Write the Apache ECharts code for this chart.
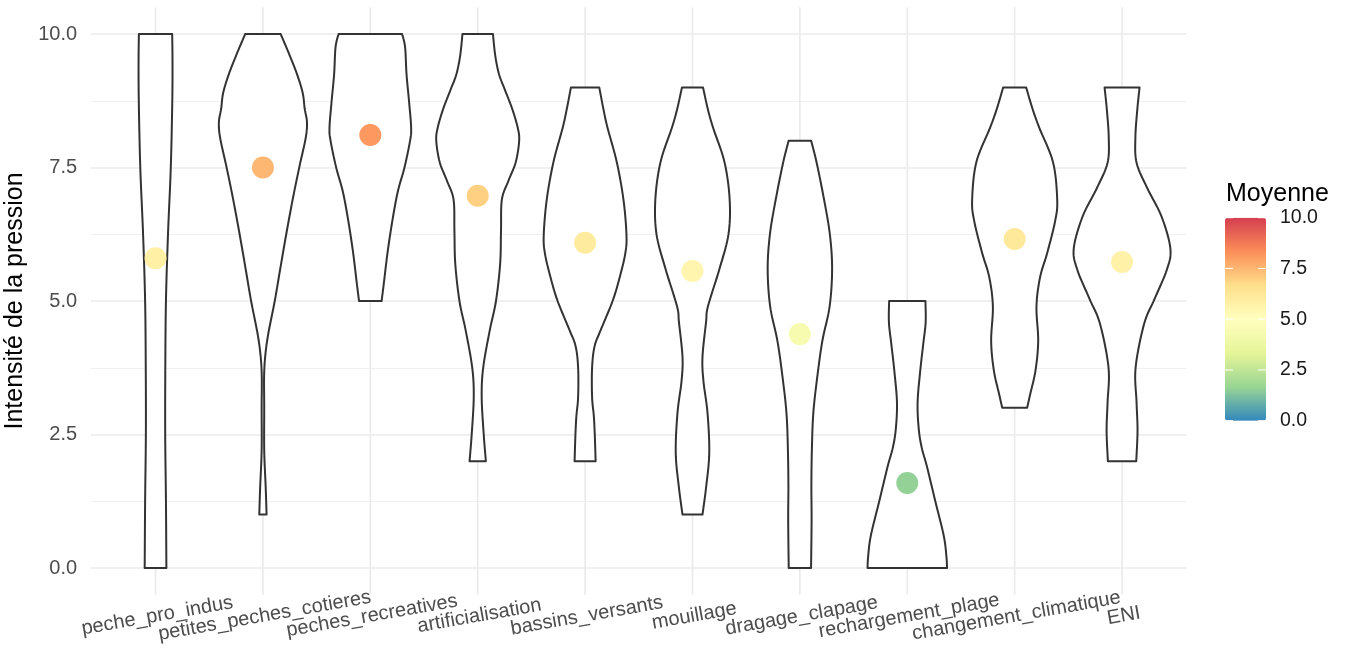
<!DOCTYPE html>
<html><head><meta charset="utf-8">
<script src="https://cdn.jsdelivr.net/npm/echarts@6/dist/echarts.min.js"></script>
<style>html,body{margin:0;padding:0;background:#fff}#c{width:1347px;height:648px}</style>
</head><body><div id="c"></div>
<script>
// ---- data ----
const categories = ['peche_pro_indus','petites_peches_cotieres','peches_recreatives','artificialisation','bassins_versants','mouillage','dragage_clapage','rechargement_plage','changement_climatique','ENI'];
const means = [5.8, 7.5, 8.11, 6.97, 6.09, 5.56, 4.38, 1.59, 6.16, 5.73];
const legendTicks = [0, 2.5, 5, 7.5, 10];
const spectral = ['#3288BD','#99D594','#E6F598','#FFFFBF','#FEE08B','#FC8D59','#D53E4F'];
// violin outlines: [intensity, half-width in category units], from min to max
const violin_peche_pro_indus = [[0,0.101],[1.25,0.097],[2.5,0.090],[3.75,0.091],[5,0.097],[6.25,0.116],[7.5,0.142],[8.75,0.156],[9.5,0.158],[10,0.155]];
const violin_petites_peches_cotieres = [[1,0.034],[1.5,0.026],[2.2,0.012],[3.0,0.012],[3.6,0.011],[4.0,0.023],[4.4,0.051],[5.0,0.110],[5.6,0.161],[6.25,0.217],[6.9,0.277],[7.5,0.338],[8.05,0.398],[8.35,0.410],[8.6,0.389],[8.9,0.370],[9.25,0.317],[9.6,0.249],[10,0.165]];
const violin_peches_recreatives = [[5,0.105],[5.3,0.124],[5.9,0.160],[6.5,0.205],[7.05,0.256],[7.5,0.318],[8.0,0.370],[8.25,0.380],[8.75,0.360],[9.25,0.337],[9.75,0.324],[10,0.296]];
const violin_artificialisation = [[2,0.076],[2.5,0.056],[3.2,0.037],[3.75,0.051],[4.45,0.112],[5.0,0.170],[5.7,0.209],[6.33,0.217],[6.9,0.225],[7.25,0.286],[7.6,0.354],[8.0,0.386],[8.25,0.372],[8.6,0.321],[8.95,0.254],[9.25,0.198],[9.6,0.163],[10,0.142]];
const violin_bassins_versants = [[2,0.098],[2.5,0.090],[2.85,0.081],[3.2,0.065],[3.75,0.065],[4.15,0.088],[4.45,0.144],[5.0,0.256],[5.45,0.323],[5.9,0.375],[6.25,0.385],[6.9,0.357],[7.6,0.295],[8.25,0.208],[8.6,0.170],[9,0.132]];
const violin_mouillage = [[1,0.093],[1.5,0.126],[2.15,0.156],[2.9,0.140],[3.5,0.102],[3.95,0.093],[4.6,0.126],[4.9,0.144],[5.6,0.251],[6.25,0.335],[6.9,0.346],[7.6,0.298],[8.25,0.191],[8.6,0.142],[9,0.098]];
const violin_dragage_clapage = [[0,0.104],[0.9,0.109],[1.55,0.107],[2.25,0.112],[2.9,0.125],[3.55,0.160],[4.25,0.209],[4.9,0.277],[5.6,0.300],[6.25,0.279],[6.9,0.225],[7.6,0.155],[8,0.105]];
const violin_rechargement_plage = [[0,0.370],[0.2,0.365],[0.6,0.340],[1.25,0.261],[1.9,0.183],[2.25,0.135],[2.6,0.107],[3.1,0.096],[3.7,0.121],[4.2,0.149],[4.6,0.171],[5,0.169]];
const violin_changement_climatique = [[3,0.116],[3.25,0.144],[3.7,0.194],[4.25,0.219],[4.9,0.203],[5.45,0.237],[5.9,0.303],[6.5,0.377],[6.9,0.396],[7.6,0.357],[8.25,0.228],[8.6,0.166],[9,0.107]];
const violin_ENI = [[2,0.132],[2.57,0.144],[3.1,0.135],[3.75,0.126],[4.57,0.205],[5.04,0.303],[5.58,0.416],[5.98,0.450],[6.58,0.368],[7.12,0.233],[7.59,0.135],[8.06,0.124],[8.59,0.142],[9,0.163]];
const violins = [violin_peche_pro_indus, violin_petites_peches_cotieres, violin_peches_recreatives, violin_artificialisation, violin_bassins_versants, violin_mouillage, violin_dragage_clapage, violin_rechargement_plage, violin_changement_climatique, violin_ENI];

// ---- rendering ----
const FONT = "'Liberation Sans', Arial, sans-serif";
const chart = echarts.init(document.getElementById('c'), null, {renderer: 'canvas'});

function spline(pts, n) {
  const out = [];
  const m = pts.length;
  for (let i = 0; i < m - 1; i++) {
    const p0 = pts[Math.max(i - 1, 0)], p1 = pts[i], p2 = pts[i + 1], p3 = pts[Math.min(i + 2, m - 1)];
    for (let s = 0; s < n; s++) {
      const t = s / n, t2 = t * t, t3 = t2 * t;
      const f = k => 0.5 * (2 * p1[k] + (-p0[k] + p2[k]) * t + (2 * p0[k] - 5 * p1[k] + 4 * p2[k] - p3[k]) * t2 + (-p0[k] + 3 * p1[k] - 3 * p2[k] + p3[k]) * t3);
      out.push([f(0), f(1)]);
    }
  }
  out.push(pts[m - 1]);
  return out;
}

const catIdx = categories.map((c, i) => [i + 1, i]);
const catPos = categories.map((c, i) => i + 1);

// colorbar geometry
const barLeft = 1225, barTop = 217.7, barW = 41, barH = 203;
const graphics = [
  {type: 'text', left: 1226, top: 182, style: {text: 'Moyenne', fontSize: 25, fontFamily: FONT, fill: '#000'}}
];
legendTicks.forEach(v => {
  const y = barTop + barH * (1 - v / 10);
  graphics.push({type: 'text', x: 1280, y: y, style: {text: v.toFixed(1), fontSize: 19.5, fontFamily: FONT, fill: '#1a1a1a', verticalAlign: 'middle', align: 'left'}});
  graphics.push({type: 'line', shape: {x1: barLeft, y1: y, x2: barLeft + 8, y2: y}, style: {stroke: '#fff', lineWidth: 1}, z: 100});
  graphics.push({type: 'line', shape: {x1: barLeft + barW - 8, y1: y, x2: barLeft + barW, y2: y}, style: {stroke: '#fff', lineWidth: 1}, z: 100});
});

function xAxisFor(values) {
  return {
    type: 'value', min: 0.4, max: 10.6, position: 'bottom', gridIndex: 0,
    axisLine: {show: false}, axisTick: {show: false}, splitLine: {show: false},
    axisLabel: {
      customValues: values,
      formatter: v => categories[Math.round(v) - 1],
      rotate: 10, align: 'center', verticalAlign: 'top', margin: 38,
      showMinLabel: true, showMaxLabel: true, hideOverlap: false,
      fontSize: 20, color: '#4d4d4d', fontFamily: FONT
    }
  };
}

const option = {
  backgroundColor: '#fff',
  animation: false,
  textStyle: {fontFamily: FONT},
  grid: {left: 91.1, right: 160.5, top: 34, bottom: 80, containLabel: false, outerBoundsMode: 'none'},
  xAxis: [
    xAxisFor(catPos.filter((v, i) => i % 2 === 0)),
    xAxisFor(catPos.filter((v, i) => i % 2 === 1))
  ],
  yAxis: {
    type: 'value', min: 0, max: 10, interval: 2.5,
    name: 'Intensité de la pression', nameLocation: 'middle', nameGap: 56,
    nameTextStyle: {fontSize: 25, color: '#000', fontFamily: FONT},
    axisLine: {show: false}, axisTick: {show: false},
    axisLabel: {formatter: v => v.toFixed(1), fontSize: 20, color: '#4d4d4d', margin: 14, fontFamily: FONT,
      showMinLabel: true, showMaxLabel: true, hideOverlap: false},
    splitLine: {lineStyle: {color: '#ebebeb', width: 1.7}},
    minorTick: {show: false, splitNumber: 2},
    minorSplitLine: {show: true, lineStyle: {color: '#f1f1f1', width: 1}}
  },
  visualMap: {
    type: 'continuous', min: 0, max: 10, dimension: 1, seriesIndex: 2,
    inRange: {color: spectral}, calculable: false, hoverLink: false,
    itemWidth: barW, itemHeight: barH, left: barLeft, top: barTop, padding: 0,
    orient: 'vertical', showLabel: false, text: null
  },
  graphic: graphics,
  series: [
    {
      type: 'custom', silent: true, z: 1, clip: false, xAxisIndex: 0,
      data: catIdx,
      renderItem: (params, api) => {
        const x = api.value(0);
        const p0 = api.coord([x, -0.5]), p1 = api.coord([x, 10.5]);
        return {type: 'line', shape: {x1: p0[0], y1: p0[1], x2: p1[0], y2: p1[1]}, style: {stroke: '#ebebeb', lineWidth: 1.7}};
      }
    },
    {
      type: 'custom', silent: true, z: 2, xAxisIndex: 0,
      data: catIdx,
      renderItem: (params, api) => {
        const cx = api.value(0);
        const prof = violins[api.value(1)];
        const left = spline(prof.map(d => api.coord([cx - d[1], d[0]])), 10);
        const right = spline(prof.map(d => api.coord([cx + d[1], d[0]])), 10).reverse();
        return {type: 'polygon', shape: {points: left.concat(right)}, style: {fill: '#fff', stroke: '#333333', lineWidth: 2, lineJoin: 'round'}};
      }
    },
    {
      type: 'scatter', z: 3, symbolSize: 22, xAxisIndex: 0,
      data: means.map((m, i) => [i + 1, m]),
      itemStyle: {opacity: 1}
    }
  ]
};
chart.setOption(option);
</script></body></html>
